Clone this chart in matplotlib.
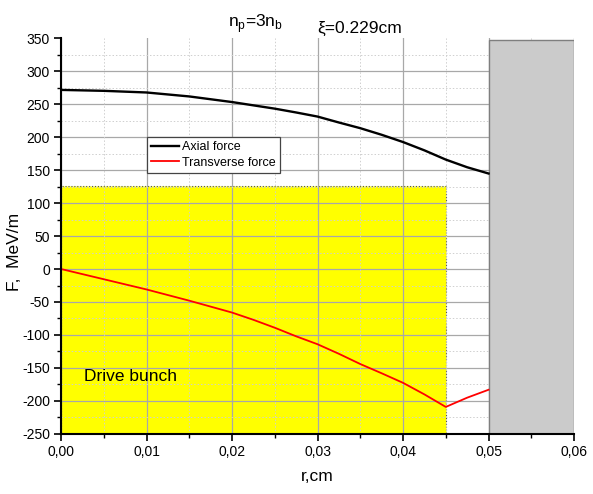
import matplotlib
matplotlib.use("Agg")
import matplotlib.pyplot as plt
from matplotlib.patches import Rectangle
from matplotlib.ticker import MultipleLocator, FuncFormatter

plt.rcParams["font.family"] = ["Liberation Sans", "DejaVu Sans"]
plt.rcParams["mathtext.fontset"] = "custom"
plt.rcParams["mathtext.rm"] = "Liberation Sans"

# radius, cm / axial force, MeV/m
r_ax = [0.0, 0.005, 0.01, 0.015, 0.02, 0.025, 0.0275, 0.03, 0.0325, 0.035,
        0.0375, 0.04, 0.0425, 0.045, 0.0475, 0.05]
axial = [271.4, 270.0, 267.5, 261.5, 253.0, 243.0, 237.2, 231.0, 222.0, 213.4,
         203.4, 192.4, 179.8, 165.8, 154.2, 144.7]
# radius, cm / transverse force, MeV/m
r_tr = [0.0, 0.005, 0.01, 0.015, 0.02, 0.0225, 0.025, 0.0275, 0.03, 0.0325,
        0.035, 0.0375, 0.04, 0.0425, 0.045, 0.0475, 0.05]
transverse = [0.0, -15.5, -31.0, -48.0, -66.0, -77.0, -89.0, -102.0, -114.0, -128.5,
              -144.0, -158.0, -172.5, -190.0, -209.0, -195.0, -183.0]

# regions
bunch_r, bunch_top = 0.045, 126
wall_r0, wall_r1, wall_top = 0.05, 0.06, 347

fig = plt.figure(figsize=(5.93, 4.94), dpi=100)
ax = fig.add_axes([0.1029, 0.1215, 0.8651, 0.8015])

ymin, ymax = -250, 350
ax.add_patch(Rectangle((0, ymin), bunch_r, bunch_top - ymin, facecolor="#ffff00",
                       edgecolor="#555555", linestyle=":", linewidth=0.8, zorder=1))
ax.add_patch(Rectangle((wall_r0, ymin), wall_r1 - wall_r0, wall_top - ymin,
                       facecolor="#cbcbcb", edgecolor="#7f7f7f", linewidth=1.0, zorder=2))

ax.plot(r_ax, axial, color="black", lw=1.7, label="Axial force", zorder=3)
ax.plot(r_tr, transverse, color="red", lw=1.3, label="Transverse force", zorder=3)

ax.set_xlim(0, 0.06)
ax.set_ylim(ymin, ymax)
ax.xaxis.set_major_locator(MultipleLocator(0.01))
ax.xaxis.set_minor_locator(MultipleLocator(0.005))
ax.yaxis.set_major_locator(MultipleLocator(50))
ax.yaxis.set_minor_locator(MultipleLocator(25))
ax.xaxis.set_major_formatter(FuncFormatter(lambda v, p: f"{v:.2f}".replace(".", ",")))
ax.yaxis.set_major_formatter(FuncFormatter(lambda v, p: f"{v:.0f}"))

# grid: vertical from the axis, horizontal drawn by hand so the top edge stays open
ax.grid(True, axis="x", which="major", color="#a8a8a8", lw=0.9, ls="-")
ax.grid(True, which="minor", color="#cfcfcf", lw=0.7, ls=(0, (1.5, 2)))
for yv in range(ymin + 50, ymax, 50):
    ax.axhline(yv, color="#a8a8a8", lw=0.9, zorder=1.5)

for s in ["top", "right"]:
    ax.spines[s].set_visible(False)
for s in ["left", "bottom"]:
    ax.spines[s].set_linewidth(1.5)
    ax.spines[s].set_zorder(4)
ax.tick_params(which="major", direction="out", length=5, width=1.2, labelsize=10, pad=3)
ax.tick_params(which="minor", direction="out", length=3, width=1.0)

ax.set_xlabel("r,cm", fontsize=12.5)
ax.xaxis.set_label_coords(0.5, -0.088)
ax.set_ylabel("F,  MeV/m", fontsize=12.5)
ax.yaxis.set_label_coords(-0.076, 0.46)

leg = ax.legend(loc="upper left", bbox_to_anchor=(0.1676, 0.75), borderaxespad=0,
                fancybox=False, framealpha=1, edgecolor="#444444", fontsize=9,
                handlelength=2.2, handletextpad=0.25, labelspacing=0.25, borderpad=0.35)
leg.get_frame().set_linewidth(0.9)
leg.set_zorder(5)

ax.text(0.0027, -170, "Drive bunch", fontsize=12.5, va="baseline", zorder=4)

fig.text(0.3845, 0.9447, r"n$_\mathregular{p}$=3n$_\mathregular{b}$", fontsize=12.5, va="baseline")
fig.text(0.5346, 0.9326, "ξ=0.229cm", fontsize=12.5, va="baseline")

fig.savefig("out.png", dpi=100)
